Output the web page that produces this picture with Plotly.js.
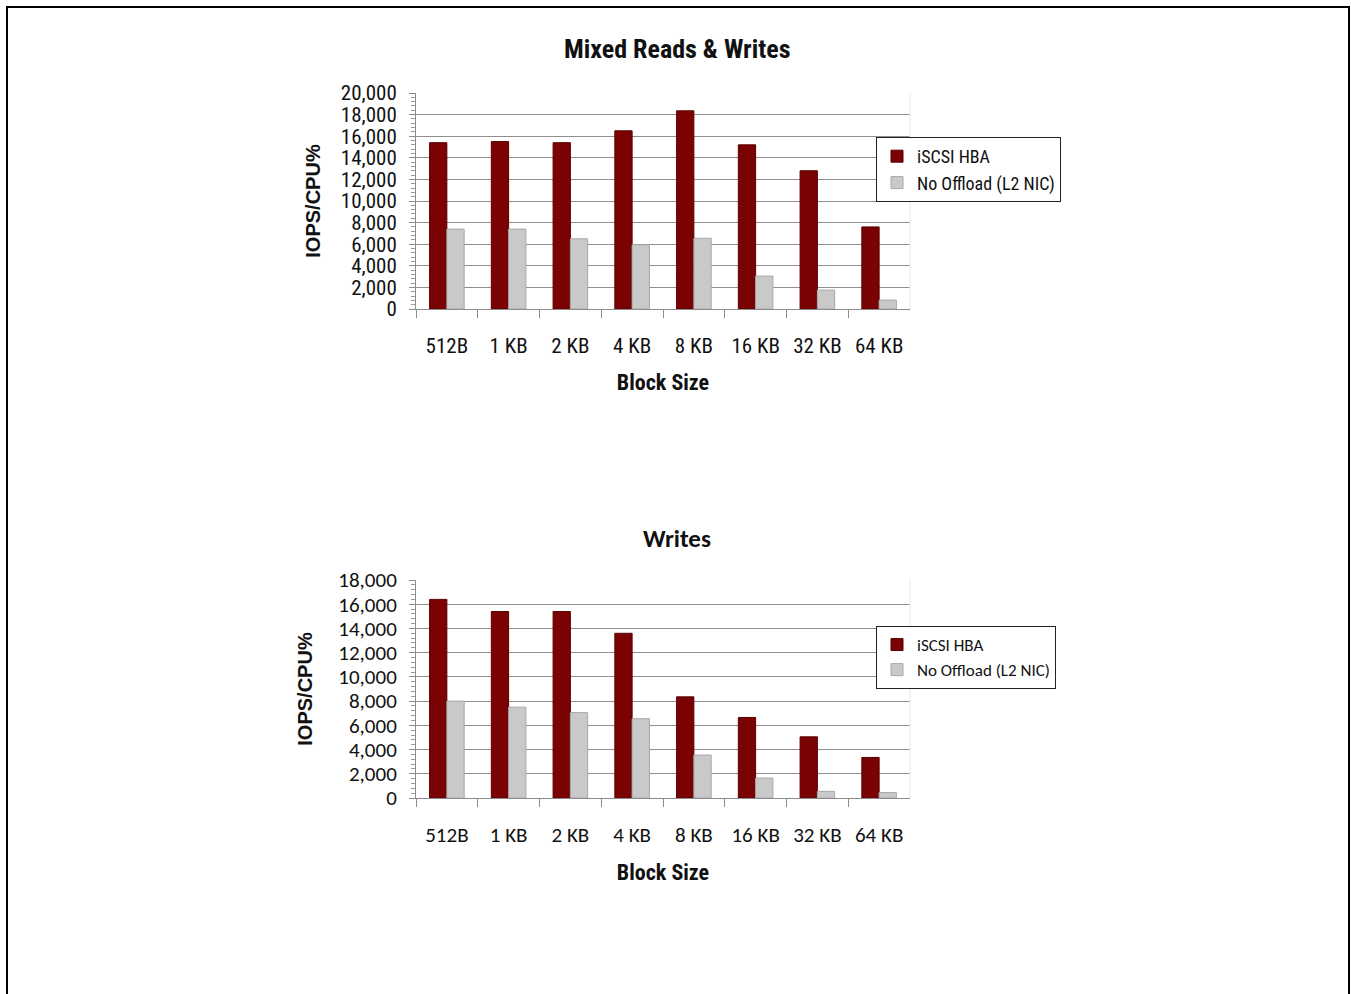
<!DOCTYPE html>
<html>
<head>
<meta charset="utf-8">
<script src="https://cdn.plot.ly/plotly-3.0.1.min.js"></script>
<style>html,body{margin:0;padding:0;background:#fff;}#chart{width:1351px;height:994px;}</style>
</head>
<body>
<div id="chart"></div>
<script>
// ---- data ----
const blockSizes = ["512B", "1 KB", "2 KB", "4 KB", "8 KB", "16 KB", "32 KB", "64 KB"];
const seriesNames = ["iSCSI HBA", "No Offload (L2 NIC)"];
const mixedHBA = [15400, 15500, 15400, 16500, 18350, 15200, 12800, 7600];
const mixedNIC = [7400, 7400, 6500, 5950, 6550, 3050, 1750, 830];
const writesHBA = [16400, 15400, 15400, 13600, 8350, 6650, 5050, 3350];
const writesNIC = [8000, 7500, 7050, 6550, 3550, 1650, 550, 450];
const titles = ["Mixed Reads & Writes", "Writes"];
const xTitle = "Block Size";
const yTitle = "IOPS/CPU%";

const W = 1351, H = 994;
const px = v => v / W, py = v => 1 - v / H;
const red = "#7a0202", gray = "#c9c9c9";
const narrow = '"Liberation Sans Narrow", "Arial Narrow", "Roboto Condensed", sans-serif';
const calib = 'Carlito, Lato, "Open Sans", sans-serif';

function bar(name, y, color, xa, ya, leg) {
  return {type: "bar", name: name, x: blockSizes, y: y, xaxis: xa, yaxis: ya, legend: leg, showlegend: true,
    marker: {color: color, line: {color: color === red ? "#5a0000" : "#a8a8a8", width: 1}}};
}
const traces = [
  bar(seriesNames[0], mixedHBA, red, "x", "y", "legend"),
  bar(seriesNames[1], mixedNIC, gray, "x", "y", "legend"),
  bar(seriesNames[0], writesHBA, red, "x2", "y2", "legend2"),
  bar(seriesNames[1], writesNIC, gray, "x2", "y2", "legend2")
];

function xaxis(anchor, dom, font, lstand, tstand) {
  return {domain: dom, anchor: anchor, type: "category", showline: true, linecolor: "#8c8c8c", linewidth: 1,
    ticks: "outside", tickson: "boundaries", ticklen: 8, tickcolor: "#8c8c8c", ticklabelstandoff: lstand,
    tickfont: {family: font, size: 21, color: "#111"}, showgrid: false, zeroline: false,
    title: {text: xTitle, font: {family: narrow, size: 22, color: "#111", weight: "bold"}, standoff: tstand}, fixedrange: true};
}
function yaxis(anchor, dom, max, font, tsize, tstand) {
  return {domain: dom, anchor: anchor, range: [0, max], dtick: 2000, tickformat: ",d", showline: true, linecolor: "#8c8c8c",
    ticks: "outside", ticklen: 6, tickcolor: "#8c8c8c", ticklabelstandoff: 8,
    minor: {dtick: 400, ticks: "outside", ticklen: 4, tickcolor: "#9a9a9a", showgrid: false},
    showgrid: true, gridcolor: "#8f8f8f", gridwidth: 1, zeroline: false,
    tickfont: {family: font, size: tsize, color: "#111"},
    title: {text: yTitle, font: {family: '"Liberation Sans", Arial, sans-serif', size: 20, color: "#111", weight: "bold"}, standoff: tstand},
    fixedrange: true};
}

const xdom = [px(416), px(910)];
const layout = {
  width: W, height: H, margin: {l: 0, r: 0, t: 0, b: 0}, paper_bgcolor: "#fff", plot_bgcolor: "#fff",
  barmode: "group", bargap: 0.44, bargroupgap: 0,
  xaxis: xaxis("y", xdom, narrow, 18, 17),
  yaxis: yaxis("x", [py(309), py(93)], 20000, narrow, 21, 14),
  xaxis2: xaxis("y2", xdom, calib, 18, 17),
  yaxis2: yaxis("x2", [py(798), py(580)], 18000, calib, 21, 20),
  legend: {x: px(876), y: py(137), xanchor: "left", yanchor: "top", bgcolor: "#fff", bordercolor: "#222", borderwidth: 1,
    font: {family: narrow, size: 18, color: "#111"}, tracegroupgap: 0, itemwidth: 30},
  legend2: {x: px(876), y: py(626), xanchor: "left", yanchor: "top", bgcolor: "#fff", bordercolor: "#222", borderwidth: 1,
    font: {family: calib, size: 17, color: "#111"}, tracegroupgap: 0, itemwidth: 30},
  annotations: [
    {text: titles[0], xref: "paper", yref: "paper", x: px(677), y: py(49), xanchor: "center", yanchor: "middle", showarrow: false,
     font: {family: narrow, size: 26, color: "#111", weight: "bold"}},
    {text: titles[1], xref: "paper", yref: "paper", x: px(677), y: py(538), xanchor: "center", yanchor: "middle", showarrow: false,
     font: {family: calib, size: 25, color: "#111", weight: "bold"}}
  ],
  shapes: [
    {type: "rect", xref: "paper", yref: "paper", x0: px(7), x1: px(1349), y0: -0.05, y1: py(7), line: {color: "#000", width: 2}, fillcolor: "rgba(0,0,0,0)"},
    {type: "line", xref: "paper", yref: "paper", x0: px(910), x1: px(910), y0: py(309), y1: py(93), line: {color: "#e6e6e6", width: 1}},
    {type: "line", xref: "paper", yref: "paper", x0: px(910), x1: px(910), y0: py(798), y1: py(580), line: {color: "#e6e6e6", width: 1}}
  ]
};
Plotly.newPlot("chart", traces, layout, {displayModeBar: false, staticPlot: true});
</script>
</body>
</html>
